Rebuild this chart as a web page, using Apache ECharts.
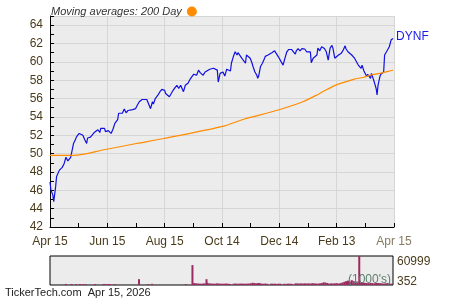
<!DOCTYPE html>
<html><head><meta charset="utf-8">
<script src="https://cdn.jsdelivr.net/npm/echarts@6/dist/echarts.min.js"></script>
<style>html,body{margin:0;padding:0;background:#fff}#c{width:450px;height:300px}</style>
</head><body><div id="c"></div>
<script>
// x positions are days since Apr 15 2025 (axis spans 366 units, ticks every 61)
const xTickLabels = ['Apr 15','Jun 15','Aug 15','Oct 14','Dec 14','Feb 13','Apr 15'];
const tickerName = 'DYNF';
const maName = 'Moving averages: 200 Day';
const volTopLabel = '60999';
const volBottomLabel = '352';
const footerText = 'TickerTech.com  Apr 15, 2026';

const priceSeries = [
[0,46.9],[1,46.0],[3,45.5],[4,44.75],[6,46.4],[7,47.5],[10,48.2],[13,48.5],[15,48.9],[17,49.6],[19,49.2],[20,49.4],[22,49.6],[24,49.7],[25,51.1],[27,51.5],[28,51.8],[31,52.2],[33,52.3],[35,52.0],[37,51.5],[39,51.1],[40,51.7],[43,51.8],[45,52.0],[47,52.3],[49,52.2],[51,52.6],[53,52.3],[54,52.75],[56,52.9],[58,52.75],[59,52.4],[60,52.6],[62,52.5],[65,52.2],[67,52.65],[69,53.3],[72,53.7],[73,54.4],[75,54.5],[77,54.4],[79,54.85],[81,54.45],[83,54.7],[85,54.8],[88,54.8],[91,54.9],[93,55.3],[95,55.65],[98,55.9],[100,56.0],[103,55.9],[105,55.95],[107,54.9],[109,55.65],[110,55.4],[112,56.0],[115,56.4],[117,56.75],[119,57.0],[122,56.9],[123,56.55],[125,56.75],[127,56.2],[129,56.55],[131,56.9],[133,57.2],[135,57.45],[137,57.1],[139,57.45],[140,57.25],[142,56.75],[144,57.45],[146,57.65],[147,57.7],[149,58.1],[151,58.4],[153,58.65],[155,58.45],[156,58.55],[158,59.1],[160,58.8],[163,58.55],[165,58.9],[167,59.1],[170,59.2],[172,59.1],[174,59.3],[176,59.4],[178,59.1],[179,57.8],[181,58.75],[184,58.9],[186,58.45],[188,59.2],[190,59.4],[192,59.0],[193,59.85],[195,60.55],[197,61.1],[199,60.75],[200,61.0],[202,60.9],[204,60.4],[206,60.6],[208,59.85],[209,60.75],[211,60.9],[213,60.4],[215,59.85],[216,59.5],[218,58.9],[220,58.55],[221,58.2],[222,58.45],[224,59.5],[226,59.85],[228,60.3],[229,60.6],[231,60.55],[232,60.75],[234,60.85],[236,61.0],[238,60.85],[239,61.2],[241,61.2],[243,60.55],[245,60.4],[246,60.0],[248,59.65],[250,60.4],[252,61.1],[254,61.35],[255,61.55],[257,61.35],[259,61.1],[261,60.85],[262,61.2],[264,61.45],[266,61.2],[268,61.45],[269,61.5],[271,61.4],[273,61.1],[275,60.9],[277,61.1],[278,59.9],[280,60.4],[282,60.6],[284,60.75],[285,61.5],[287,61.2],[289,61.65],[291,61.75],[292,61.45],[294,61.1],[296,60.2],[298,61.5],[300,61.8],[301,61.5],[303,60.4],[305,60.6],[307,60.75],[308,60.6],[310,60.95],[312,61.3],[314,61.75],[315,61.4],[317,61.1],[319,61.15],[321,60.75],[323,60.8],[324,60.4],[326,60.4],[328,59.65],[330,59.8],[331,59.3],[332,59.65],[334,59.0],[335,59.1],[337,58.4],[338,58.65],[340,58.75],[341,58.2],[342,58.75],[344,58.65],[345,57.8],[347,57.1],[348,56.4],[349,57.45],[351,58.4],[352,58.65],[354,58.75],[355,58.9],[356,60.75],[358,61.1],[360,61.2],[361,61.65],[363,62.4],[365,62.55]
];

const maSeries = [
[0,49.8],[25,49.8],[59,50.45],[92,51.1],[121,51.65],[185,53.0],[206,53.75],[241,54.7],[269,55.65],[287,56.56],[304,57.47],[323,58.1],[333,58.3],[341,58.55],[351,58.75],[365,59.1]
];

// volume in thousands
const volumeSeries = [
[17,2600],[23,2400],[28,2500],[32,2400],[35,2300],[38,2400],[48,2500],[57,2300],[59,2600],[62,2400],[64,2500],[69,2300],[95,12500],[105,2300],[109,2800],[145,2400],[152,42000],
[154,4500],[156,3800],[158,3400],[160,3200],[162,3000],[164,3800],[166,3200],[167,12500],[168,5000],[170,3800],[172,3400],[174,3200],[176,3000],[178,3800],[180,3400],[182,3200],[184,3000],[186,3200],[188,3400],[190,3000],[192,2600],[196,3200],[198,3400],[200,3000],[202,3200],[204,3400],[206,3200],[208,3000],[210,3200],[212,3400],[214,3800],[216,5000],[218,4500],[220,3800],[222,4600],[224,4200],[226,3200],[228,3000],[230,3400],[232,2800],[236,3200],[238,3000],[240,3200],[242,2600],[244,3200],[246,3000],[250,3000],[252,2600],[254,3200],[256,3000],[258,2800],[262,3800],[264,3800],[266,3400],[268,3800],[270,3400],[272,3800],[274,3500],[276,3800],[278,3400],[280,4200],[282,3800],[284,3400],[286,3200],[288,3800],[290,4400],[292,6000],[294,5500],[296,4600],[298,3200],[300,3800],[302,3400],[304,3800],[306,4200],[308,3400],[310,4400],[312,5500],[314,7000],[316,8500],[318,9500],[320,7500],[322,10500],[324,8500],[326,7000],[328,7500],[330,60999],[332,6000],[334,5500],[336,5000],[338,4400],[340,4200],[342,5000],[344,4400],[346,3800],[348,4600],[350,4400],[352,4200],[354,3800],[356,3400],[358,3800],[360,4400],[362,3800],[364,3200]
];

const FONT = '"Liberation Sans", Arial, sans-serif';
const LABEL = '#4a3b1c';
const chart = echarts.init(document.getElementById('c'), null, {renderer:'canvas'});
chart.setOption({
  animation:false,
  backgroundColor:'#ffffff',
  textStyle:{fontFamily:FONT},
  legend:{
    data:[{name:maName, icon:'circle'}],
    left:46, top:1, align:'right', itemWidth:10, itemHeight:10, selectedMode:false,
    textStyle:{fontStyle:'italic', fontSize:11, color:'#333', fontFamily:FONT}
  },
  title:[
    {text:footerText, left:5, top:287, padding:0, textStyle:{fontSize:11, fontWeight:'normal', color:'#222', fontFamily:FONT}},
    {text:"(1000's)", left:348, top:274, padding:0, textStyle:{fontSize:12, fontWeight:'normal', color:'#5e7e6e', fontFamily:FONT}}
  ],
  grid:[
    {left:50, right:56, top:16, bottom:73, show:true, backgroundColor:'#ececec', borderWidth:0},
    {left:50, right:57, top:256, bottom:15, show:true, backgroundColor:'#ececec', borderColor:'#000', borderWidth:1}
  ],
  xAxis:[
    {gridIndex:0, type:'value', min:0, max:366, interval:61,
     axisLine:{show:true, lineStyle:{color:'#000', width:1}},
     axisTick:{show:true, inside:true, length:4, lineStyle:{color:'#000'}},
     minorTick:{show:true, splitNumber:2, length:4, lineStyle:{color:'#000'}},
     splitLine:{show:true, lineStyle:{color:'#d6d6d6', width:1}},
     axisLabel:{margin:9, fontSize:12, color:LABEL, fontFamily:FONT,
       formatter:function(v){const i=Math.round(v/61); return i===xTickLabels.length-1 ? '{l|'+xTickLabels[i]+'}' : xTickLabels[i];},
       rich:{l:{color:'#857a62', fontSize:12, fontFamily:FONT}}}
    },
    {gridIndex:1, type:'value', min:0, max:366, show:false}
  ],
  yAxis:[
    {gridIndex:0, type:'value', min:42, max:65, interval:2,
     axisLine:{show:true, lineStyle:{color:'#000', width:1}},
     axisTick:{show:true, inside:true, length:4, lineStyle:{color:'#000'}},
     minorTick:{show:true, splitNumber:2, length:4, lineStyle:{color:'#000'}},
     splitLine:{show:true, lineStyle:{color:'#d6d6d6', width:1}},
     axisLabel:{margin:7, fontSize:12, color:LABEL, fontFamily:FONT,
       formatter:function(v){return v>64 ? '' : String(v);}}
    },
    {gridIndex:1, type:'value', position:'right', min:352, max:60999, interval:60647,
     axisLine:{show:false}, axisTick:{show:false}, splitLine:{show:false},
     axisLabel:{margin:4, fontSize:12, color:LABEL, fontFamily:FONT,
       formatter:function(v){return v>=60999 ? '{t|'+volTopLabel+'}' : '{b|'+volBottomLabel+'}';},
       rich:{t:{padding:[12,0,0,0], fontSize:12, color:LABEL, fontFamily:FONT}, b:{padding:[0,0,6,0], fontSize:12, color:LABEL, fontFamily:FONT}}}
    }
  ],
  series:[
    {name:tickerName, type:'line', xAxisIndex:0, yAxisIndex:0, data:priceSeries, showSymbol:false,
     lineStyle:{color:'#1010e0', width:1.2}, itemStyle:{color:'#1010e0'},
     endLabel:{show:true, formatter:tickerName, color:'#1a1ae8', fontSize:12, fontFamily:FONT, distance:3, offset:[0,-2]}},
    {name:maName, type:'line', xAxisIndex:0, yAxisIndex:0, data:maSeries, showSymbol:false, smooth:0.3,
     lineStyle:{color:'#ff8c00', width:1.2}, itemStyle:{color:'#ff8c00'}},
    {name:'Volume', type:'bar', xAxisIndex:1, yAxisIndex:1, data:volumeSeries, barWidth:2,
     itemStyle:{color:'#9b2a62'}}
  ]
});
</script></body></html>
